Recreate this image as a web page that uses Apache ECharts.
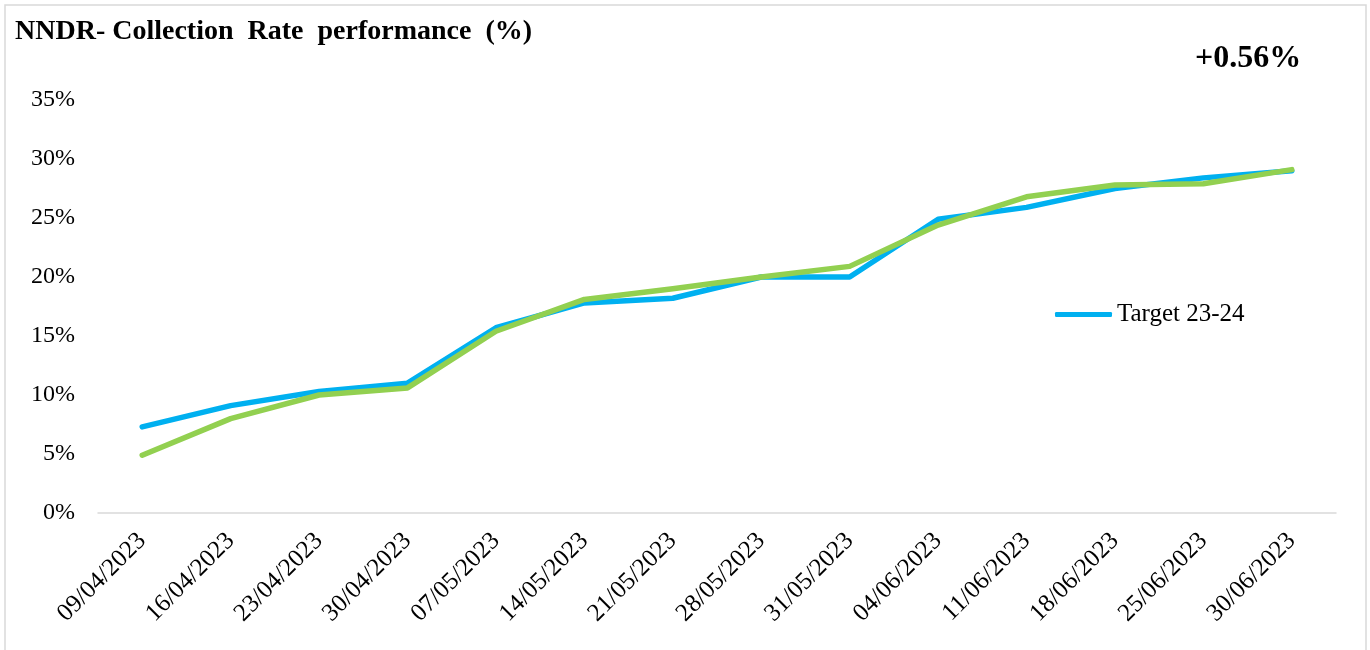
<!DOCTYPE html>
<html>
<head>
<meta charset="utf-8">
<script src="https://cdn.jsdelivr.net/npm/echarts@6/dist/echarts.min.js"></script>
<style>
  html, body { margin: 0; padding: 0; background: #fff; }
  #chart-container { width: 1370px; height: 650px; }
</style>
</head>
<body>
<div id="chart-container"></div>
<script>
var weeks = ["09/04/2023", "16/04/2023", "23/04/2023", "30/04/2023", "07/05/2023", "14/05/2023", "21/05/2023",
  "28/05/2023", "31/05/2023", "04/06/2023", "11/06/2023", "18/06/2023", "25/06/2023", "30/06/2023"];
var target = [7.3, 9.1, 10.3, 11.0, 15.7, 17.8, 18.2, 20.0, 20.0, 24.9, 25.9, 27.5, 28.4, 29.0];
var actual = [4.9, 8.0, 10.0, 10.6, 15.4, 18.1, 19.0, 20.0, 20.9, 24.4, 26.8, 27.8, 27.9, 29.1];
var yTicks = [0, 5, 10, 15, 20, 25, 30, 35];

var font = "'Liberation Serif', serif";

var dom = document.getElementById("chart-container");
var myChart = echarts.init(dom, null, { renderer: "canvas" });

var option = {
  animation: false,
  title: [
    {
      text: "NNDR- Collection  Rate  performance  (%)",
      left: 15,
      top: 18,
      padding: 0,
      textStyle: { fontFamily: font, fontWeight: "bold", fontSize: 28, color: "#000" }
    },
    {
      text: "+0.56%",
      left: 1195,
      top: 43,
      padding: 0,
      textStyle: { fontFamily: font, fontWeight: "bold", fontSize: 32, color: "#000" }
    }
  ],
  graphic: [
    {
      type: "rect",
      shape: { x: 5, y: 5, width: 1361, height: 660 },
      style: { fill: null, stroke: "#d9d9d9", lineWidth: 1.5 },
      silent: true
    }
  ],
  legend: {
    data: ["Target 23-24"],
    left: 1055,
    top: 302,
    padding: 0,
    itemWidth: 57,
    itemHeight: 5,
    itemGap: 4,
    icon: "roundRect",
    textStyle: { fontFamily: font, fontSize: 25, color: "#000", padding: [0, 0, 0, 0] }
  },
  grid: { left: 98, right: 34, top: 100, bottom: 137 },
  xAxis: {
    type: "category",
    data: weeks,
    boundaryGap: true,
    axisLine: { lineStyle: { color: "#d9d9d9", width: 1.5 } },
    axisTick: { show: false },
    axisLabel: {
      interval: 0,
      rotate: 45,
      margin: 24,
      fontFamily: font,
      fontSize: 25,
      color: "#000"
    }
  },
  yAxis: {
    type: "value",
    min: yTicks[0],
    max: yTicks[yTicks.length - 1],
    interval: 5,
    splitLine: { show: false },
    axisLine: { show: false },
    axisTick: { show: false },
    axisLabel: {
      margin: 23,
      fontFamily: font,
      fontSize: 24,
      color: "#000",
      formatter: function (v) { return v + "%"; }
    }
  },
  series: [
    {
      name: "Target 23-24",
      type: "line",
      data: target,
      symbol: "none",
      lineStyle: { color: "#00B0F0", width: 5.5, cap: "round", join: "round" },
      itemStyle: { color: "#00B0F0" }
    },
    {
      name: "Actual 23-24",
      type: "line",
      data: actual,
      symbol: "none",
      lineStyle: { color: "#92D050", width: 5.5, cap: "round", join: "round" },
      itemStyle: { color: "#92D050" }
    }
  ]
};

myChart.setOption(option);
window.addEventListener("resize", myChart.resize);
</script>
</body>
</html>
